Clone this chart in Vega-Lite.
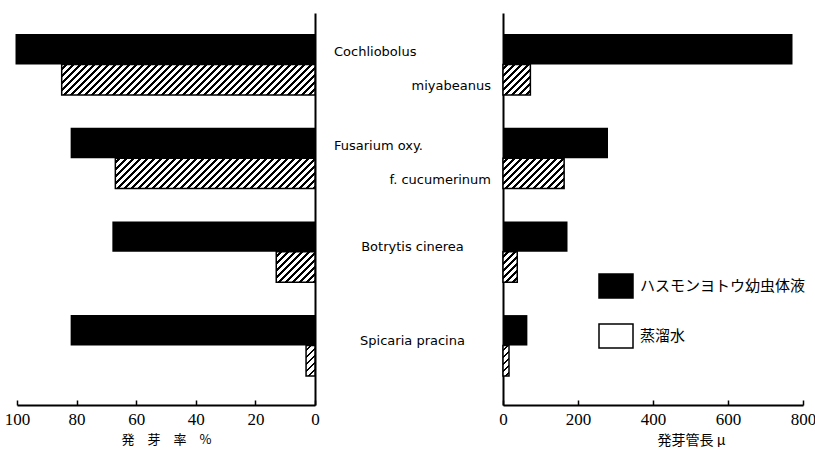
{
  "$schema": "https://vega.github.io/schema/vega-lite/v6.json",
  "padding": {"left": 4, "top": 13, "right": 0, "bottom": 0},
  "autosize": {"type": "pad"},
  "background": "white",
  "config": {
    "view": {"stroke": null},
    "axis": {"domainColor": "#000", "domainWidth": 2, "tickColor": "#000", "tickWidth": 1.5, "labelColor": "#000", "titleColor": "#000", "grid": false}
  },
  "datasets": {
    "bars": [
      {"species": "Cochliobolus miyabeanus", "treatment": "ハスモンヨトウ幼虫体液", "rate": 100.5, "length": 772},
      {"species": "Cochliobolus miyabeanus", "treatment": "蒸溜水", "rate": 85, "length": 73},
      {"species": "Fusarium oxy. f. cucumerinum", "treatment": "ハスモンヨトウ幼虫体液", "rate": 82, "length": 280},
      {"species": "Fusarium oxy. f. cucumerinum", "treatment": "蒸溜水", "rate": 67, "length": 163},
      {"species": "Botrytis cinerea", "treatment": "ハスモンヨトウ幼虫体液", "rate": 68, "length": 172},
      {"species": "Botrytis cinerea", "treatment": "蒸溜水", "rate": 13, "length": 38},
      {"species": "Spicaria pracina", "treatment": "ハスモンヨトウ幼虫体液", "rate": 82, "length": 65},
      {"species": "Spicaria pracina", "treatment": "蒸溜水", "rate": 3, "length": 16}
    ],
    "labels": [
      {"species": "Cochliobolus miyabeanus", "part": "first", "text": "Cochliobolus"},
      {"species": "Cochliobolus miyabeanus", "part": "second", "text": "miyabeanus"},
      {"species": "Fusarium oxy. f. cucumerinum", "part": "first", "text": "Fusarium oxy."},
      {"species": "Fusarium oxy. f. cucumerinum", "part": "second", "text": "f. cucumerinum"},
      {"species": "Botrytis cinerea", "part": "single", "text": "Botrytis cinerea"},
      {"species": "Spicaria pracina", "part": "single", "text": "Spicaria pracina"}
    ]
  },
  "spacing": 0,
  "bounds": "flush",
  "resolve": {"scale": {"fill": "independent", "yOffset": "independent"}, "legend": {"fill": "independent"}},
  "hconcat": [
    {
      "width": 298,
      "height": 392,
      "data": {"name": "bars"},
      "layer": [
        {
          "transform": [{"filter": "datum.treatment === 'ハスモンヨトウ幼虫体液'"}],
          "mark": {"type": "bar", "fill": "#000"},
          "encoding": {
            "y": {"field": "species", "type": "nominal", "scale": {"domain": ["Cochliobolus miyabeanus", "Fusarium oxy. f. cucumerinum", "Botrytis cinerea", "Spicaria pracina"], "paddingInner": 0.35, "paddingOuter": 0.267, "align": 0.42}, "axis": {"orient": "right", "labels": false, "ticks": false, "title": null, "domainWidth": 2}},
            "yOffset": {"field": "treatment", "type": "nominal", "scale": {"domain": ["ハスモンヨトウ幼虫体液", "蒸溜水"], "paddingInner": 0, "paddingOuter": 0}},
            "x": {"field": "rate", "type": "quantitative", "scale": {"domain": [0, 100], "reverse": true, "nice": false}, "axis": {"values": [0, 20, 40, 60, 80, 100], "title": "発　芽　率　%", "tickSize": -5, "labelPadding": 11, "labelFlush": false, "labelOverlap": false, "labelFont": "Liberation Serif", "labelFontSize": 17, "titleFont": "Noto Sans CJK JP", "titleFontSize": 13, "titleFontWeight": "normal", "titleBaseline": "top", "titleY": 28}}
          }
        },
        {
          "transform": [{"filter": "datum.treatment === '蒸溜水'"}],
          "mark": {"type": "bar", "stroke": "#000", "strokeWidth": 1.5},
          "encoding": {
            "y": {"field": "species", "type": "nominal"},
            "yOffset": {"field": "treatment", "type": "nominal"},
            "x": {"field": "rate", "type": "quantitative"},
            "fill": {
              "condition": [
                {"test": "datum.species === 'Cochliobolus miyabeanus'", "value": {"gradient": "linear", "x1": 0, "y1": 0, "x2": 1.3621, "y2": 0.16374, "stops": [
                  {"offset":0.01,"color":"#fff"},{"offset":0.01,"color":"#000"},{"offset":0.018,"color":"#000"},{"offset":0.018,"color":"#fff"},
                  {"offset":0.03,"color":"#fff"},{"offset":0.03,"color":"#000"},{"offset":0.038,"color":"#000"},{"offset":0.038,"color":"#fff"},
                  {"offset":0.05,"color":"#fff"},{"offset":0.05,"color":"#000"},{"offset":0.058,"color":"#000"},{"offset":0.058,"color":"#fff"},
                  {"offset":0.07,"color":"#fff"},{"offset":0.07,"color":"#000"},{"offset":0.078,"color":"#000"},{"offset":0.078,"color":"#fff"},
                  {"offset":0.09,"color":"#fff"},{"offset":0.09,"color":"#000"},{"offset":0.098,"color":"#000"},{"offset":0.098,"color":"#fff"},
                  {"offset":0.11,"color":"#fff"},{"offset":0.11,"color":"#000"},{"offset":0.118,"color":"#000"},{"offset":0.118,"color":"#fff"},
                  {"offset":0.13,"color":"#fff"},{"offset":0.13,"color":"#000"},{"offset":0.138,"color":"#000"},{"offset":0.138,"color":"#fff"},
                  {"offset":0.15,"color":"#fff"},{"offset":0.15,"color":"#000"},{"offset":0.158,"color":"#000"},{"offset":0.158,"color":"#fff"},
                  {"offset":0.17,"color":"#fff"},{"offset":0.17,"color":"#000"},{"offset":0.178,"color":"#000"},{"offset":0.178,"color":"#fff"},
                  {"offset":0.19,"color":"#fff"},{"offset":0.19,"color":"#000"},{"offset":0.198,"color":"#000"},{"offset":0.198,"color":"#fff"},
                  {"offset":0.21,"color":"#fff"},{"offset":0.21,"color":"#000"},{"offset":0.218,"color":"#000"},{"offset":0.218,"color":"#fff"},
                  {"offset":0.23,"color":"#fff"},{"offset":0.23,"color":"#000"},{"offset":0.238,"color":"#000"},{"offset":0.238,"color":"#fff"},
                  {"offset":0.25,"color":"#fff"},{"offset":0.25,"color":"#000"},{"offset":0.258,"color":"#000"},{"offset":0.258,"color":"#fff"},
                  {"offset":0.27,"color":"#fff"},{"offset":0.27,"color":"#000"},{"offset":0.278,"color":"#000"},{"offset":0.278,"color":"#fff"},
                  {"offset":0.29,"color":"#fff"},{"offset":0.29,"color":"#000"},{"offset":0.298,"color":"#000"},{"offset":0.298,"color":"#fff"},
                  {"offset":0.31,"color":"#fff"},{"offset":0.31,"color":"#000"},{"offset":0.318,"color":"#000"},{"offset":0.318,"color":"#fff"},
                  {"offset":0.33,"color":"#fff"},{"offset":0.33,"color":"#000"},{"offset":0.338,"color":"#000"},{"offset":0.338,"color":"#fff"},
                  {"offset":0.35,"color":"#fff"},{"offset":0.35,"color":"#000"},{"offset":0.358,"color":"#000"},{"offset":0.358,"color":"#fff"},
                  {"offset":0.37,"color":"#fff"},{"offset":0.37,"color":"#000"},{"offset":0.378,"color":"#000"},{"offset":0.378,"color":"#fff"},
                  {"offset":0.39,"color":"#fff"},{"offset":0.39,"color":"#000"},{"offset":0.398,"color":"#000"},{"offset":0.398,"color":"#fff"},
                  {"offset":0.41,"color":"#fff"},{"offset":0.41,"color":"#000"},{"offset":0.418,"color":"#000"},{"offset":0.418,"color":"#fff"},
                  {"offset":0.43,"color":"#fff"},{"offset":0.43,"color":"#000"},{"offset":0.438,"color":"#000"},{"offset":0.438,"color":"#fff"},
                  {"offset":0.45,"color":"#fff"},{"offset":0.45,"color":"#000"},{"offset":0.458,"color":"#000"},{"offset":0.458,"color":"#fff"},
                  {"offset":0.47,"color":"#fff"},{"offset":0.47,"color":"#000"},{"offset":0.478,"color":"#000"},{"offset":0.478,"color":"#fff"},
                  {"offset":0.49,"color":"#fff"},{"offset":0.49,"color":"#000"},{"offset":0.498,"color":"#000"},{"offset":0.498,"color":"#fff"},
                  {"offset":0.51,"color":"#fff"},{"offset":0.51,"color":"#000"},{"offset":0.518,"color":"#000"},{"offset":0.518,"color":"#fff"},
                  {"offset":0.53,"color":"#fff"},{"offset":0.53,"color":"#000"},{"offset":0.538,"color":"#000"},{"offset":0.538,"color":"#fff"},
                  {"offset":0.55,"color":"#fff"},{"offset":0.55,"color":"#000"},{"offset":0.558,"color":"#000"},{"offset":0.558,"color":"#fff"},
                  {"offset":0.57,"color":"#fff"},{"offset":0.57,"color":"#000"},{"offset":0.578,"color":"#000"},{"offset":0.578,"color":"#fff"},
                  {"offset":0.59,"color":"#fff"},{"offset":0.59,"color":"#000"},{"offset":0.598,"color":"#000"},{"offset":0.598,"color":"#fff"},
                  {"offset":0.61,"color":"#fff"},{"offset":0.61,"color":"#000"},{"offset":0.618,"color":"#000"},{"offset":0.618,"color":"#fff"},
                  {"offset":0.63,"color":"#fff"},{"offset":0.63,"color":"#000"},{"offset":0.638,"color":"#000"},{"offset":0.638,"color":"#fff"},
                  {"offset":0.65,"color":"#fff"},{"offset":0.65,"color":"#000"},{"offset":0.658,"color":"#000"},{"offset":0.658,"color":"#fff"},
                  {"offset":0.67,"color":"#fff"},{"offset":0.67,"color":"#000"},{"offset":0.678,"color":"#000"},{"offset":0.678,"color":"#fff"},
                  {"offset":0.69,"color":"#fff"},{"offset":0.69,"color":"#000"},{"offset":0.698,"color":"#000"},{"offset":0.698,"color":"#fff"},
                  {"offset":0.71,"color":"#fff"},{"offset":0.71,"color":"#000"},{"offset":0.718,"color":"#000"},{"offset":0.718,"color":"#fff"},
                  {"offset":0.73,"color":"#fff"},{"offset":0.73,"color":"#000"},{"offset":0.738,"color":"#000"},{"offset":0.738,"color":"#fff"},
                  {"offset":0.75,"color":"#fff"},{"offset":0.75,"color":"#000"},{"offset":0.758,"color":"#000"},{"offset":0.758,"color":"#fff"},
                  {"offset":0.77,"color":"#fff"},{"offset":0.77,"color":"#000"},{"offset":0.778,"color":"#000"},{"offset":0.778,"color":"#fff"},
                  {"offset":0.79,"color":"#fff"},{"offset":0.79,"color":"#000"},{"offset":0.798,"color":"#000"},{"offset":0.798,"color":"#fff"},
                  {"offset":0.81,"color":"#fff"},{"offset":0.81,"color":"#000"},{"offset":0.818,"color":"#000"},{"offset":0.818,"color":"#fff"}
                ]}},
                {"test": "datum.species === 'Fusarium oxy. f. cucumerinum'", "value": {"gradient": "linear", "x1": 0, "y1": 0, "x2": 1.7131, "y2": 0.26127, "stops": [
                  {"offset":0.01,"color":"#fff"},{"offset":0.01,"color":"#000"},{"offset":0.018,"color":"#000"},{"offset":0.018,"color":"#fff"},
                  {"offset":0.03,"color":"#fff"},{"offset":0.03,"color":"#000"},{"offset":0.038,"color":"#000"},{"offset":0.038,"color":"#fff"},
                  {"offset":0.05,"color":"#fff"},{"offset":0.05,"color":"#000"},{"offset":0.058,"color":"#000"},{"offset":0.058,"color":"#fff"},
                  {"offset":0.07,"color":"#fff"},{"offset":0.07,"color":"#000"},{"offset":0.078,"color":"#000"},{"offset":0.078,"color":"#fff"},
                  {"offset":0.09,"color":"#fff"},{"offset":0.09,"color":"#000"},{"offset":0.098,"color":"#000"},{"offset":0.098,"color":"#fff"},
                  {"offset":0.11,"color":"#fff"},{"offset":0.11,"color":"#000"},{"offset":0.118,"color":"#000"},{"offset":0.118,"color":"#fff"},
                  {"offset":0.13,"color":"#fff"},{"offset":0.13,"color":"#000"},{"offset":0.138,"color":"#000"},{"offset":0.138,"color":"#fff"},
                  {"offset":0.15,"color":"#fff"},{"offset":0.15,"color":"#000"},{"offset":0.158,"color":"#000"},{"offset":0.158,"color":"#fff"},
                  {"offset":0.17,"color":"#fff"},{"offset":0.17,"color":"#000"},{"offset":0.178,"color":"#000"},{"offset":0.178,"color":"#fff"},
                  {"offset":0.19,"color":"#fff"},{"offset":0.19,"color":"#000"},{"offset":0.198,"color":"#000"},{"offset":0.198,"color":"#fff"},
                  {"offset":0.21,"color":"#fff"},{"offset":0.21,"color":"#000"},{"offset":0.218,"color":"#000"},{"offset":0.218,"color":"#fff"},
                  {"offset":0.23,"color":"#fff"},{"offset":0.23,"color":"#000"},{"offset":0.238,"color":"#000"},{"offset":0.238,"color":"#fff"},
                  {"offset":0.25,"color":"#fff"},{"offset":0.25,"color":"#000"},{"offset":0.258,"color":"#000"},{"offset":0.258,"color":"#fff"},
                  {"offset":0.27,"color":"#fff"},{"offset":0.27,"color":"#000"},{"offset":0.278,"color":"#000"},{"offset":0.278,"color":"#fff"},
                  {"offset":0.29,"color":"#fff"},{"offset":0.29,"color":"#000"},{"offset":0.298,"color":"#000"},{"offset":0.298,"color":"#fff"},
                  {"offset":0.31,"color":"#fff"},{"offset":0.31,"color":"#000"},{"offset":0.318,"color":"#000"},{"offset":0.318,"color":"#fff"},
                  {"offset":0.33,"color":"#fff"},{"offset":0.33,"color":"#000"},{"offset":0.338,"color":"#000"},{"offset":0.338,"color":"#fff"},
                  {"offset":0.35,"color":"#fff"},{"offset":0.35,"color":"#000"},{"offset":0.358,"color":"#000"},{"offset":0.358,"color":"#fff"},
                  {"offset":0.37,"color":"#fff"},{"offset":0.37,"color":"#000"},{"offset":0.378,"color":"#000"},{"offset":0.378,"color":"#fff"},
                  {"offset":0.39,"color":"#fff"},{"offset":0.39,"color":"#000"},{"offset":0.398,"color":"#000"},{"offset":0.398,"color":"#fff"},
                  {"offset":0.41,"color":"#fff"},{"offset":0.41,"color":"#000"},{"offset":0.418,"color":"#000"},{"offset":0.418,"color":"#fff"},
                  {"offset":0.43,"color":"#fff"},{"offset":0.43,"color":"#000"},{"offset":0.438,"color":"#000"},{"offset":0.438,"color":"#fff"},
                  {"offset":0.45,"color":"#fff"},{"offset":0.45,"color":"#000"},{"offset":0.458,"color":"#000"},{"offset":0.458,"color":"#fff"},
                  {"offset":0.47,"color":"#fff"},{"offset":0.47,"color":"#000"},{"offset":0.478,"color":"#000"},{"offset":0.478,"color":"#fff"},
                  {"offset":0.49,"color":"#fff"},{"offset":0.49,"color":"#000"},{"offset":0.498,"color":"#000"},{"offset":0.498,"color":"#fff"},
                  {"offset":0.51,"color":"#fff"},{"offset":0.51,"color":"#000"},{"offset":0.518,"color":"#000"},{"offset":0.518,"color":"#fff"},
                  {"offset":0.53,"color":"#fff"},{"offset":0.53,"color":"#000"},{"offset":0.538,"color":"#000"},{"offset":0.538,"color":"#fff"},
                  {"offset":0.55,"color":"#fff"},{"offset":0.55,"color":"#000"},{"offset":0.558,"color":"#000"},{"offset":0.558,"color":"#fff"},
                  {"offset":0.57,"color":"#fff"},{"offset":0.57,"color":"#000"},{"offset":0.578,"color":"#000"},{"offset":0.578,"color":"#fff"},
                  {"offset":0.59,"color":"#fff"},{"offset":0.59,"color":"#000"},{"offset":0.598,"color":"#000"},{"offset":0.598,"color":"#fff"},
                  {"offset":0.61,"color":"#fff"},{"offset":0.61,"color":"#000"},{"offset":0.618,"color":"#000"},{"offset":0.618,"color":"#fff"},
                  {"offset":0.63,"color":"#fff"},{"offset":0.63,"color":"#000"},{"offset":0.638,"color":"#000"},{"offset":0.638,"color":"#fff"},
                  {"offset":0.65,"color":"#fff"},{"offset":0.65,"color":"#000"},{"offset":0.658,"color":"#000"},{"offset":0.658,"color":"#fff"}
                ]}},
                {"test": "datum.species === 'Botrytis cinerea'", "value": {"gradient": "linear", "x1": 0, "y1": 0, "x2": 5.5845, "y2": 4.3894, "stops": [
                  {"offset":0.01,"color":"#fff"},{"offset":0.01,"color":"#000"},{"offset":0.018,"color":"#000"},{"offset":0.018,"color":"#fff"},
                  {"offset":0.03,"color":"#fff"},{"offset":0.03,"color":"#000"},{"offset":0.038,"color":"#000"},{"offset":0.038,"color":"#fff"},
                  {"offset":0.05,"color":"#fff"},{"offset":0.05,"color":"#000"},{"offset":0.058,"color":"#000"},{"offset":0.058,"color":"#fff"},
                  {"offset":0.07,"color":"#fff"},{"offset":0.07,"color":"#000"},{"offset":0.078,"color":"#000"},{"offset":0.078,"color":"#fff"},
                  {"offset":0.09,"color":"#fff"},{"offset":0.09,"color":"#000"},{"offset":0.098,"color":"#000"},{"offset":0.098,"color":"#fff"},
                  {"offset":0.11,"color":"#fff"},{"offset":0.11,"color":"#000"},{"offset":0.118,"color":"#000"},{"offset":0.118,"color":"#fff"},
                  {"offset":0.13,"color":"#fff"},{"offset":0.13,"color":"#000"},{"offset":0.138,"color":"#000"},{"offset":0.138,"color":"#fff"},
                  {"offset":0.15,"color":"#fff"},{"offset":0.15,"color":"#000"},{"offset":0.158,"color":"#000"},{"offset":0.158,"color":"#fff"},
                  {"offset":0.17,"color":"#fff"},{"offset":0.17,"color":"#000"},{"offset":0.178,"color":"#000"},{"offset":0.178,"color":"#fff"},
                  {"offset":0.19,"color":"#fff"},{"offset":0.19,"color":"#000"},{"offset":0.198,"color":"#000"},{"offset":0.198,"color":"#fff"}
                ]}}
              ],
              "value": {"gradient": "linear", "x1": 0, "y1": 0, "x2": 3.1069, "y2": 10.582, "stops": [
                {"offset":0.01,"color":"#fff"},{"offset":0.01,"color":"#000"},{"offset":0.018,"color":"#000"},{"offset":0.018,"color":"#fff"},
                {"offset":0.03,"color":"#fff"},{"offset":0.03,"color":"#000"},{"offset":0.038,"color":"#000"},{"offset":0.038,"color":"#fff"},
                {"offset":0.05,"color":"#fff"},{"offset":0.05,"color":"#000"},{"offset":0.058,"color":"#000"},{"offset":0.058,"color":"#fff"},
                {"offset":0.07,"color":"#fff"},{"offset":0.07,"color":"#000"},{"offset":0.078,"color":"#000"},{"offset":0.078,"color":"#fff"},
                {"offset":0.09,"color":"#fff"},{"offset":0.09,"color":"#000"},{"offset":0.098,"color":"#000"},{"offset":0.098,"color":"#fff"},
                {"offset":0.11,"color":"#fff"},{"offset":0.11,"color":"#000"},{"offset":0.118,"color":"#000"},{"offset":0.118,"color":"#fff"}
              ]}
            }
          }
        }
      ]
    },
    {
      "width": 188,
      "height": 392,
      "data": {"name": "labels"},
      "encoding": {
        "y": {"field": "species", "type": "nominal", "scale": {"type": "band", "domain": ["Cochliobolus miyabeanus", "Fusarium oxy. f. cucumerinum", "Botrytis cinerea", "Spicaria pracina"], "paddingInner": 0.35, "paddingOuter": 0.267, "align": 0.42}, "axis": null},
        "x": {"field": "part", "type": "nominal", "scale": {"type": "point", "domain": ["first", "single", "second"], "range": [19, 176], "padding": 0}, "axis": null},
        "text": {"field": "text"}
      },
      "layer": [
        {
          "transform": [{"filter": "datum.part === 'first'"}],
          "mark": {"type": "text", "align": "left", "baseline": "middle", "dy": -12, "font": "DejaVu Sans", "fontSize": 13, "color": "#000"}
        },
        {
          "transform": [{"filter": "datum.part === 'second'"}],
          "mark": {"type": "text", "align": "right", "baseline": "middle", "dy": 22, "font": "DejaVu Sans", "fontSize": 13, "color": "#000"}
        },
        {
          "transform": [{"filter": "datum.part === 'single'"}],
          "mark": {"type": "text", "align": "center", "baseline": "middle", "dy": -5, "font": "DejaVu Sans", "fontSize": 13, "color": "#000"}
        }
      ]
    },
    {
      "width": 300,
      "height": 392,
      "data": {"name": "bars"},
      "layer": [
        {
          "transform": [{"filter": "datum.treatment === 'ハスモンヨトウ幼虫体液'"}],
          "mark": {"type": "bar"},
          "encoding": {
            "y": {"field": "species", "type": "nominal", "scale": {"domain": ["Cochliobolus miyabeanus", "Fusarium oxy. f. cucumerinum", "Botrytis cinerea", "Spicaria pracina"], "paddingInner": 0.35, "paddingOuter": 0.267, "align": 0.42}, "axis": {"orient": "left", "labels": false, "ticks": false, "title": null, "domainWidth": 2}},
            "yOffset": {"field": "treatment", "type": "nominal", "scale": {"domain": ["ハスモンヨトウ幼虫体液", "蒸溜水"], "paddingInner": 0, "paddingOuter": 0}},
            "x": {"field": "length", "type": "quantitative", "scale": {"domain": [0, 800], "nice": false}, "axis": {"values": [0, 200, 400, 600, 800], "title": "発芽管長 μ", "tickSize": -5, "labelPadding": 11, "labelFlush": false, "labelOverlap": false, "labelFont": "Liberation Serif", "labelFontSize": 17, "titleFont": "Noto Sans CJK JP", "titleFontSize": 14, "titleFontWeight": "normal", "titleBaseline": "top", "titleY": 28, "titleX": 188, "titleAlign": "center"}},
            "fill": {
              "field": "treatment", "type": "nominal",
              "scale": {"domain": ["ハスモンヨトウ幼虫体液", "蒸溜水"], "range": ["#000", "#fff"]},
              "legend": {
                "orient": "none", "legendX": 95, "legendY": 255, "title": null,
                "symbolType": "M-1,-0.706H1V0.706H-1Z", "symbolSize": 1156,
                "symbolStrokeColor": "#000", "symbolStrokeWidth": 1.5, "symbolOpacity": 1,
                "labelFont": "Noto Sans CJK JP", "labelFontSize": 15, "labelColor": "#000", "labelOffset": 6, "labelLimit": 300,
                "rowPadding": 16,
                "encode": {"symbols": {"update": {
                  "fill": {"condition": {"test": "datum.value === '蒸溜水'", "value": {"expr": "{gradient: 'linear', x1: 0, y1: 0, x2: 6.8707, y2: 4.8499, stops: [{offset: 0.01, color: '#fff'}, {offset: 0.01, color: '#000'}, {offset: 0.018, color: '#000'}, {offset: 0.018, color: '#fff'}, {offset: 0.03, color: '#fff'}, {offset: 0.03, color: '#000'}, {offset: 0.038, color: '#000'}, {offset: 0.038, color: '#fff'}, {offset: 0.05, color: '#fff'}, {offset: 0.05, color: '#000'}, {offset: 0.058, color: '#000'}, {offset: 0.058, color: '#fff'}, {offset: 0.07, color: '#fff'}, {offset: 0.07, color: '#000'}, {offset: 0.078, color: '#000'}, {offset: 0.078, color: '#fff'}, {offset: 0.09, color: '#fff'}, {offset: 0.09, color: '#000'}, {offset: 0.098, color: '#000'}, {offset: 0.098, color: '#fff'}, {offset: 0.11, color: '#fff'}, {offset: 0.11, color: '#000'}, {offset: 0.118, color: '#000'}, {offset: 0.118, color: '#fff'}, {offset: 0.13, color: '#fff'}, {offset: 0.13, color: '#000'}, {offset: 0.138, color: '#000'}, {offset: 0.138, color: '#fff'}, {offset: 0.15, color: '#fff'}, {offset: 0.15, color: '#000'}, {offset: 0.158, color: '#000'}, {offset: 0.158, color: '#fff'}]}"}}, "value": "#000"},
                  "stroke": {"value": "#000"},
                  "strokeWidth": {"value": 1.5}
                }}}
              }
            }
          }
        },
        {
          "transform": [{"filter": "datum.treatment === '蒸溜水'"}],
          "mark": {"type": "bar", "stroke": "#000", "strokeWidth": 1.5},
          "encoding": {
            "y": {"field": "species", "type": "nominal"},
            "yOffset": {"field": "treatment", "type": "nominal"},
            "x": {"field": "length", "type": "quantitative"},
            "fill": {
              "condition": [
                {"test": "datum.species === 'Cochliobolus miyabeanus'", "value": {"gradient": "linear", "x1": 0, "y1": 0, "x2": 5.7147, "y2": 6.3566, "stops": [
                  {"offset":0.01,"color":"#fff"},{"offset":0.01,"color":"#000"},{"offset":0.018,"color":"#000"},{"offset":0.018,"color":"#fff"},
                  {"offset":0.03,"color":"#fff"},{"offset":0.03,"color":"#000"},{"offset":0.038,"color":"#000"},{"offset":0.038,"color":"#fff"},
                  {"offset":0.05,"color":"#fff"},{"offset":0.05,"color":"#000"},{"offset":0.058,"color":"#000"},{"offset":0.058,"color":"#fff"},
                  {"offset":0.07,"color":"#fff"},{"offset":0.07,"color":"#000"},{"offset":0.078,"color":"#000"},{"offset":0.078,"color":"#fff"},
                  {"offset":0.09,"color":"#fff"},{"offset":0.09,"color":"#000"},{"offset":0.098,"color":"#000"},{"offset":0.098,"color":"#fff"},
                  {"offset":0.11,"color":"#fff"},{"offset":0.11,"color":"#000"},{"offset":0.118,"color":"#000"},{"offset":0.118,"color":"#fff"},
                  {"offset":0.13,"color":"#fff"},{"offset":0.13,"color":"#000"},{"offset":0.138,"color":"#000"},{"offset":0.138,"color":"#fff"},
                  {"offset":0.15,"color":"#fff"},{"offset":0.15,"color":"#000"},{"offset":0.158,"color":"#000"},{"offset":0.158,"color":"#fff"}
                ]}},
                {"test": "datum.species === 'Fusarium oxy. f. cucumerinum'", "value": {"gradient": "linear", "x1": 0, "y1": 0, "x2": 4.5874, "y2": 2.2853, "stops": [
                  {"offset":0.01,"color":"#fff"},{"offset":0.01,"color":"#000"},{"offset":0.018,"color":"#000"},{"offset":0.018,"color":"#fff"},
                  {"offset":0.03,"color":"#fff"},{"offset":0.03,"color":"#000"},{"offset":0.038,"color":"#000"},{"offset":0.038,"color":"#fff"},
                  {"offset":0.05,"color":"#fff"},{"offset":0.05,"color":"#000"},{"offset":0.058,"color":"#000"},{"offset":0.058,"color":"#fff"},
                  {"offset":0.07,"color":"#fff"},{"offset":0.07,"color":"#000"},{"offset":0.078,"color":"#000"},{"offset":0.078,"color":"#fff"},
                  {"offset":0.09,"color":"#fff"},{"offset":0.09,"color":"#000"},{"offset":0.098,"color":"#000"},{"offset":0.098,"color":"#fff"},
                  {"offset":0.11,"color":"#fff"},{"offset":0.11,"color":"#000"},{"offset":0.118,"color":"#000"},{"offset":0.118,"color":"#fff"},
                  {"offset":0.13,"color":"#fff"},{"offset":0.13,"color":"#000"},{"offset":0.138,"color":"#000"},{"offset":0.138,"color":"#fff"},
                  {"offset":0.15,"color":"#fff"},{"offset":0.15,"color":"#000"},{"offset":0.158,"color":"#000"},{"offset":0.158,"color":"#fff"},
                  {"offset":0.17,"color":"#fff"},{"offset":0.17,"color":"#000"},{"offset":0.178,"color":"#000"},{"offset":0.178,"color":"#fff"},
                  {"offset":0.19,"color":"#fff"},{"offset":0.19,"color":"#000"},{"offset":0.198,"color":"#000"},{"offset":0.198,"color":"#fff"},
                  {"offset":0.21,"color":"#fff"},{"offset":0.21,"color":"#000"},{"offset":0.218,"color":"#000"},{"offset":0.218,"color":"#fff"},
                  {"offset":0.23,"color":"#fff"},{"offset":0.23,"color":"#000"},{"offset":0.238,"color":"#000"},{"offset":0.238,"color":"#fff"},
                  {"offset":0.25,"color":"#fff"},{"offset":0.25,"color":"#000"},{"offset":0.258,"color":"#000"},{"offset":0.258,"color":"#fff"}
                ]}},
                {"test": "datum.species === 'Botrytis cinerea'", "value": {"gradient": "linear", "x1": 0, "y1": 0, "x2": 4.4125, "y2": 9.4289, "stops": [
                  {"offset":0.01,"color":"#fff"},{"offset":0.01,"color":"#000"},{"offset":0.018,"color":"#000"},{"offset":0.018,"color":"#fff"},
                  {"offset":0.03,"color":"#fff"},{"offset":0.03,"color":"#000"},{"offset":0.038,"color":"#000"},{"offset":0.038,"color":"#fff"},
                  {"offset":0.05,"color":"#fff"},{"offset":0.05,"color":"#000"},{"offset":0.058,"color":"#000"},{"offset":0.058,"color":"#fff"},
                  {"offset":0.07,"color":"#fff"},{"offset":0.07,"color":"#000"},{"offset":0.078,"color":"#000"},{"offset":0.078,"color":"#fff"},
                  {"offset":0.09,"color":"#fff"},{"offset":0.09,"color":"#000"},{"offset":0.098,"color":"#000"},{"offset":0.098,"color":"#fff"},
                  {"offset":0.11,"color":"#fff"},{"offset":0.11,"color":"#000"},{"offset":0.118,"color":"#000"},{"offset":0.118,"color":"#fff"}
                ]}}
              ],
              "value": {"gradient": "linear", "x1": 0, "y1": 0, "x2": 2.1802, "y2": 11.0647, "stops": [
                {"offset":0.01,"color":"#fff"},{"offset":0.01,"color":"#000"},{"offset":0.018,"color":"#000"},{"offset":0.018,"color":"#fff"},
                {"offset":0.03,"color":"#fff"},{"offset":0.03,"color":"#000"},{"offset":0.038,"color":"#000"},{"offset":0.038,"color":"#fff"},
                {"offset":0.05,"color":"#fff"},{"offset":0.05,"color":"#000"},{"offset":0.058,"color":"#000"},{"offset":0.058,"color":"#fff"},
                {"offset":0.07,"color":"#fff"},{"offset":0.07,"color":"#000"},{"offset":0.078,"color":"#000"},{"offset":0.078,"color":"#fff"},
                {"offset":0.09,"color":"#fff"},{"offset":0.09,"color":"#000"},{"offset":0.098,"color":"#000"},{"offset":0.098,"color":"#fff"}
              ]}
            }
          }
        }
      ]
    }
  ]
}
